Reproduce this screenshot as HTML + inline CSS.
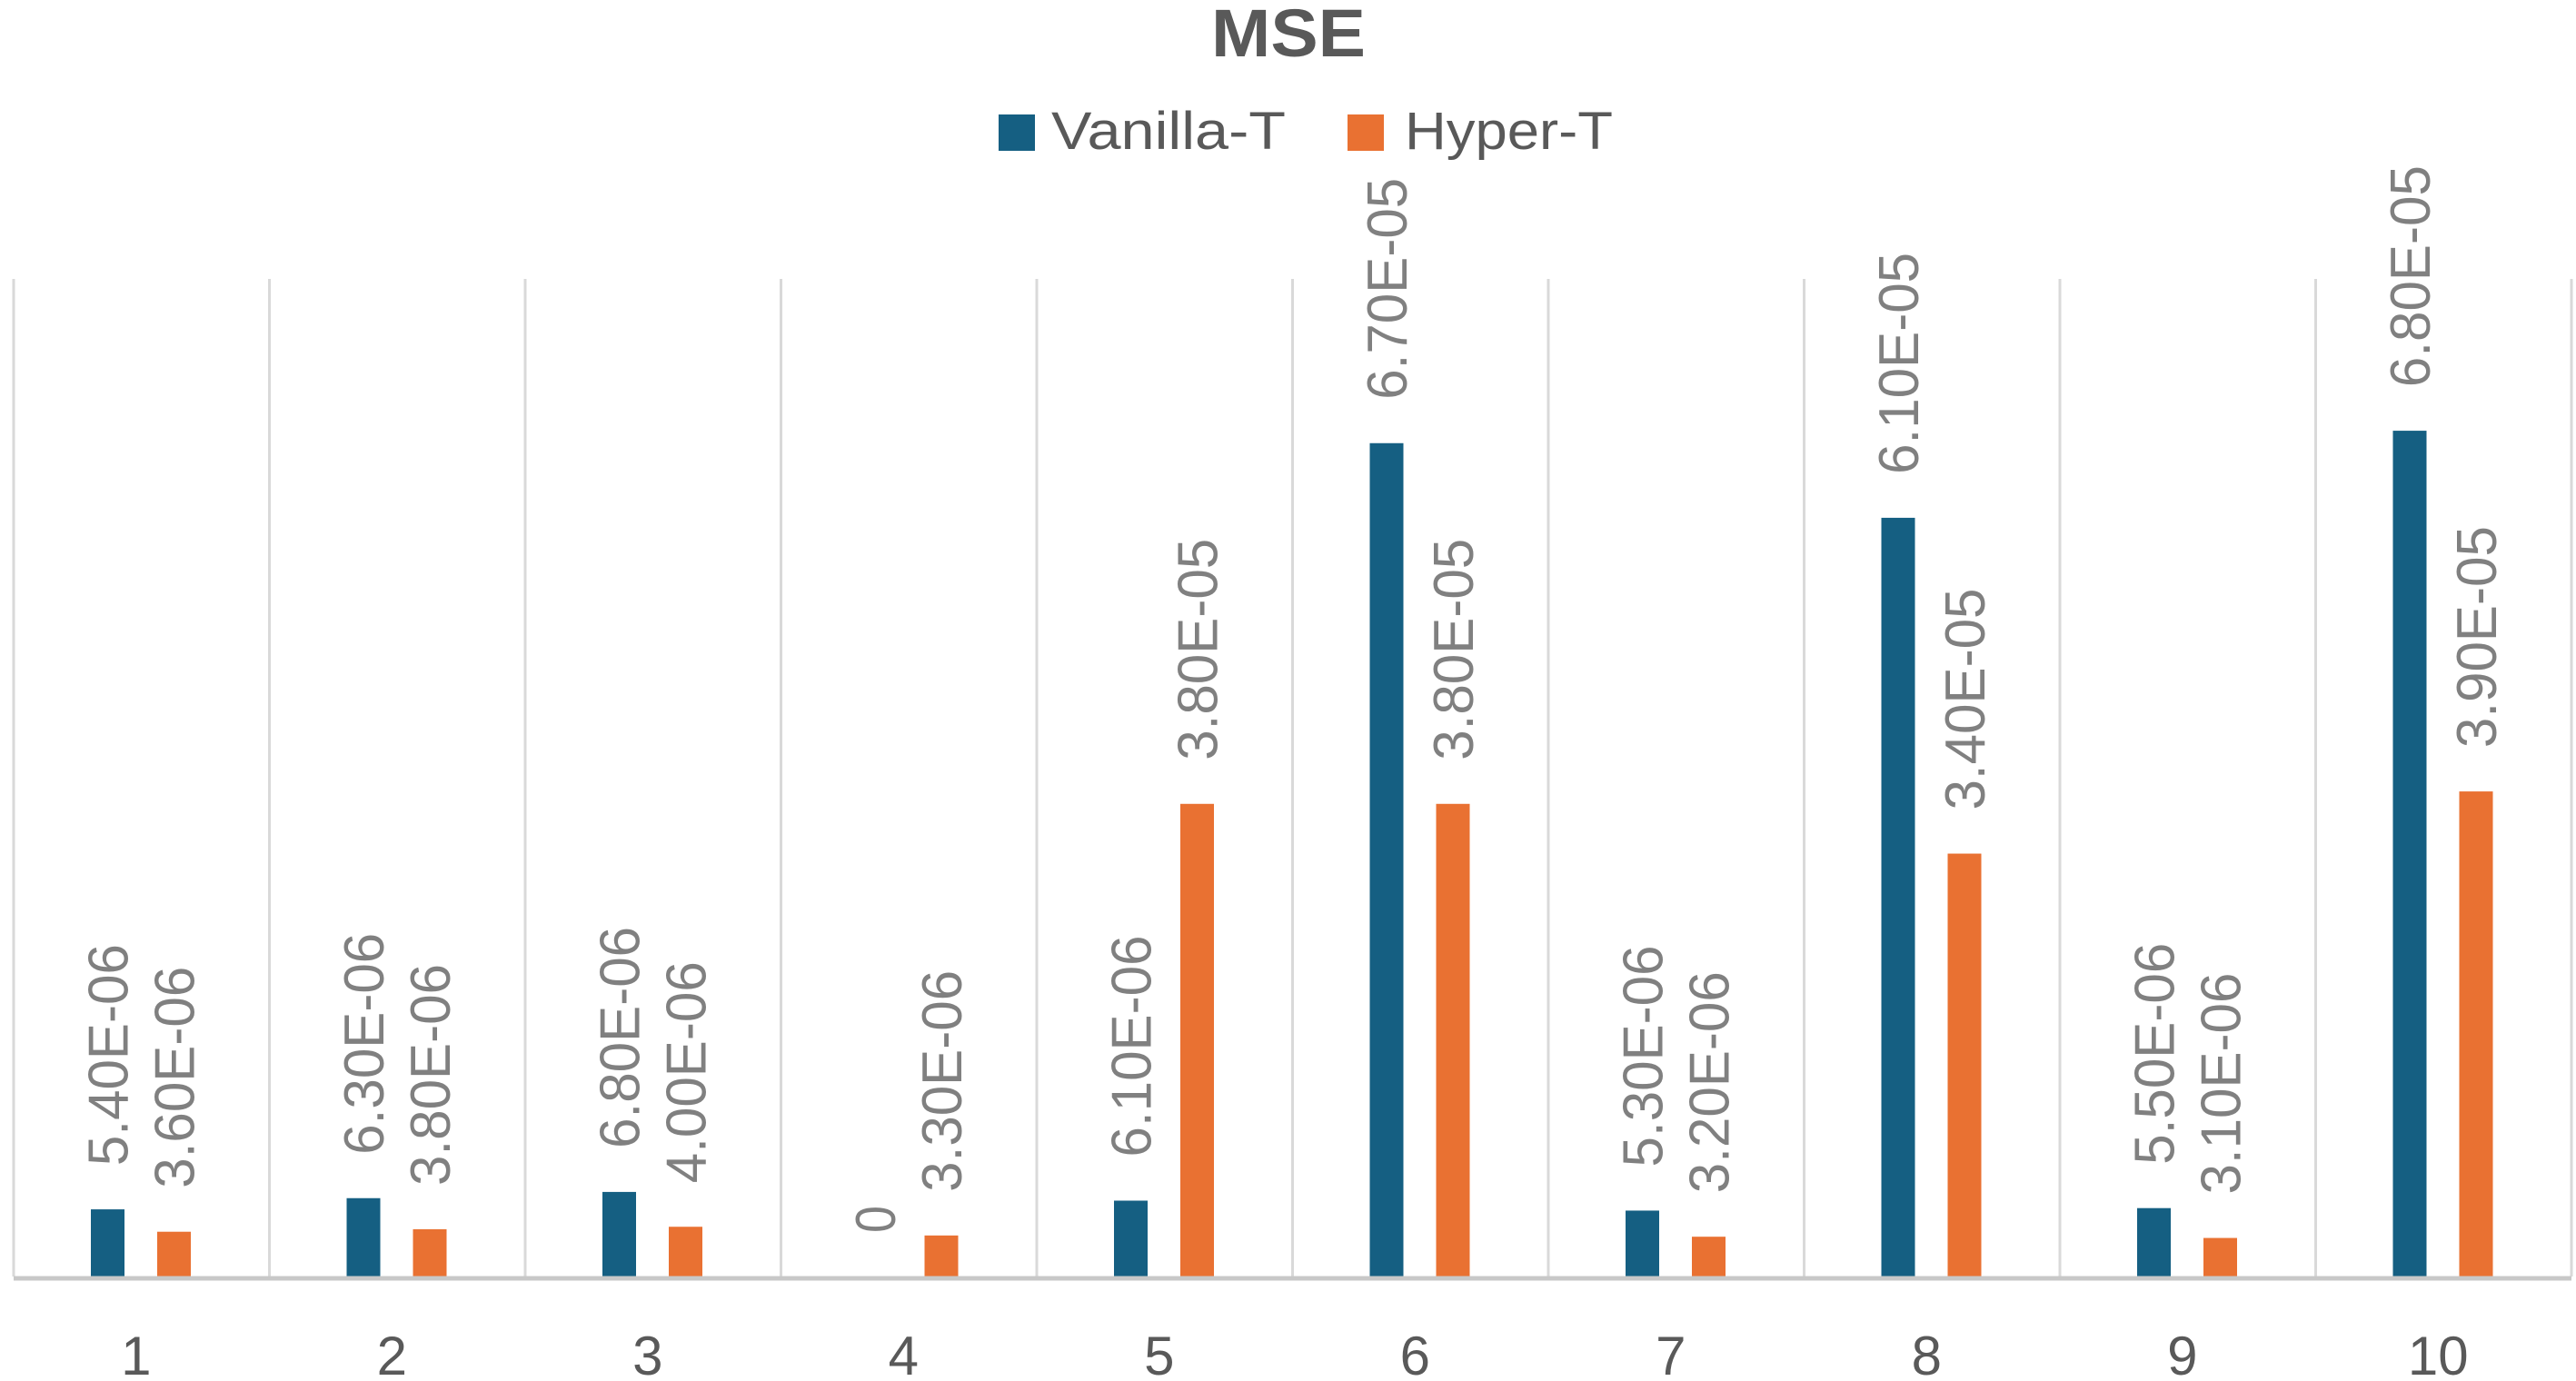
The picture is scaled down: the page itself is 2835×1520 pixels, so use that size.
<!DOCTYPE html>
<html><head><meta charset="utf-8"><style>
html,body{margin:0;padding:0;background:#fff;}
svg{display:block;font-family:"Liberation Sans",sans-serif;}
</style></head><body>
<svg id="chart" width="2835" height="1520" viewBox="0 0 2835 1520" xmlns="http://www.w3.org/2000/svg">
<text x="1418" y="62" text-anchor="middle" font-size="74" font-weight="bold" fill="#595959" textLength="170" lengthAdjust="spacingAndGlyphs">MSE</text>
<g>
<g>
<rect x="1099" y="126" width="40" height="40" fill="#155F82"/>
<text x="1157" y="164" font-size="58" fill="#595959" textLength="258" lengthAdjust="spacingAndGlyphs">Vanilla-T</text>
</g>
<g>
<rect x="1483" y="126" width="40" height="40" fill="#E97132"/>
<text x="1546" y="164" font-size="58" fill="#595959" textLength="229" lengthAdjust="spacingAndGlyphs">Hyper-T</text>
</g>
</g>
<g id="grid"></g>
<g id="bars"></g>
<g id="labels"></g>
<g id="xaxis"></g>
</svg>
<script>
const categories = ["1","2","3","4","5","6","7","8","9","10"];
const vanillaValues = [5.4e-6, 6.3e-6, 6.8e-6, 0, 6.1e-6, 6.7e-5, 5.3e-6, 6.1e-5, 5.5e-6, 6.8e-5];
const hyperValues = [3.6e-6, 3.8e-6, 4.0e-6, 3.3e-6, 3.8e-5, 3.8e-5, 3.2e-6, 3.4e-5, 3.1e-6, 3.9e-5];
const vanillaLabels = ["5.40E-06","6.30E-06","6.80E-06","0","6.10E-06","6.70E-05","5.30E-06","6.10E-05","5.50E-06","6.80E-05"];
const hyperLabels = ["3.60E-06","3.80E-06","4.00E-06","3.30E-06","3.80E-05","3.80E-05","3.20E-06","3.40E-05","3.10E-06","3.90E-05"];

const NS = "http://www.w3.org/2000/svg";
const plotLeft = 15, plotRight = 2830, plotTop = 307, baseY = 1405;
const catW = (plotRight - plotLeft) / categories.length;
const pxPerUnit = 13.69e6;
function yScale(v){ return baseY - v * pxPerUnit; }
function xCat(i){ return plotLeft + i * catW; }
const barW = 37;
function mk(tag, attrs, parent){
  const el = document.createElementNS(NS, tag);
  for (const k in attrs) el.setAttribute(k, attrs[k]);
  parent.appendChild(el);
  return el;
}
const grid = document.getElementById('grid');
const bars = document.getElementById('bars');
const labels = document.getElementById('labels');
const xaxis = document.getElementById('xaxis');
for (let i = 0; i <= categories.length; i++) {
  const x = xCat(i);
  const l = mk('line', {x1:x, x2:x, y1:plotTop, y2:baseY, stroke:'#d9d9d9', 'stroke-width':3}, grid);
  
  
}
const axisLine = mk('line', {x1:plotLeft, x2:plotRight, y1:baseY+2, y2:baseY+2, stroke:'#c8c8c8', 'stroke-width':5}, xaxis);



function addLabel(text, cx, topY){
  const len = text.length === 1 ? 30 : 244;
  const yb = topY - 48;
  const t = mk('text', {x:0, y:0, 'font-size':62, fill:'#808080',
    transform:'translate(' + (cx + 22) + ',' + yb + ') rotate(-90)',
    textLength: len, lengthAdjust:'spacingAndGlyphs'}, labels);
  t.textContent = text;
  return t;
}
categories.forEach((c, i) => {
  const x0 = xCat(i);
  const bx = x0 + 85, ox = x0 + 158;
  const vy = yScale(vanillaValues[i]);
  const b = mk('rect', {x:bx, y:vy, width:barW, height:baseY - vy, fill:'#155F82'}, bars);
  
  
  const hy = yScale(hyperValues[i]);
  const o = mk('rect', {x:ox, y:hy, width:barW, height:baseY - hy, fill:'#E97132'}, bars);
  
  
  const lv = addLabel(vanillaLabels[i], bx + barW/2, vy);
  
  
  const lh = addLabel(hyperLabels[i], ox + barW/2, hy);
  
  
  const t = mk('text', {x:x0 + catW/2 - 6, y:1513, 'text-anchor':'middle', 'font-size':60, fill:'#595959'}, xaxis);
  t.textContent = c;
  
  
});
</script>
</body></html>
